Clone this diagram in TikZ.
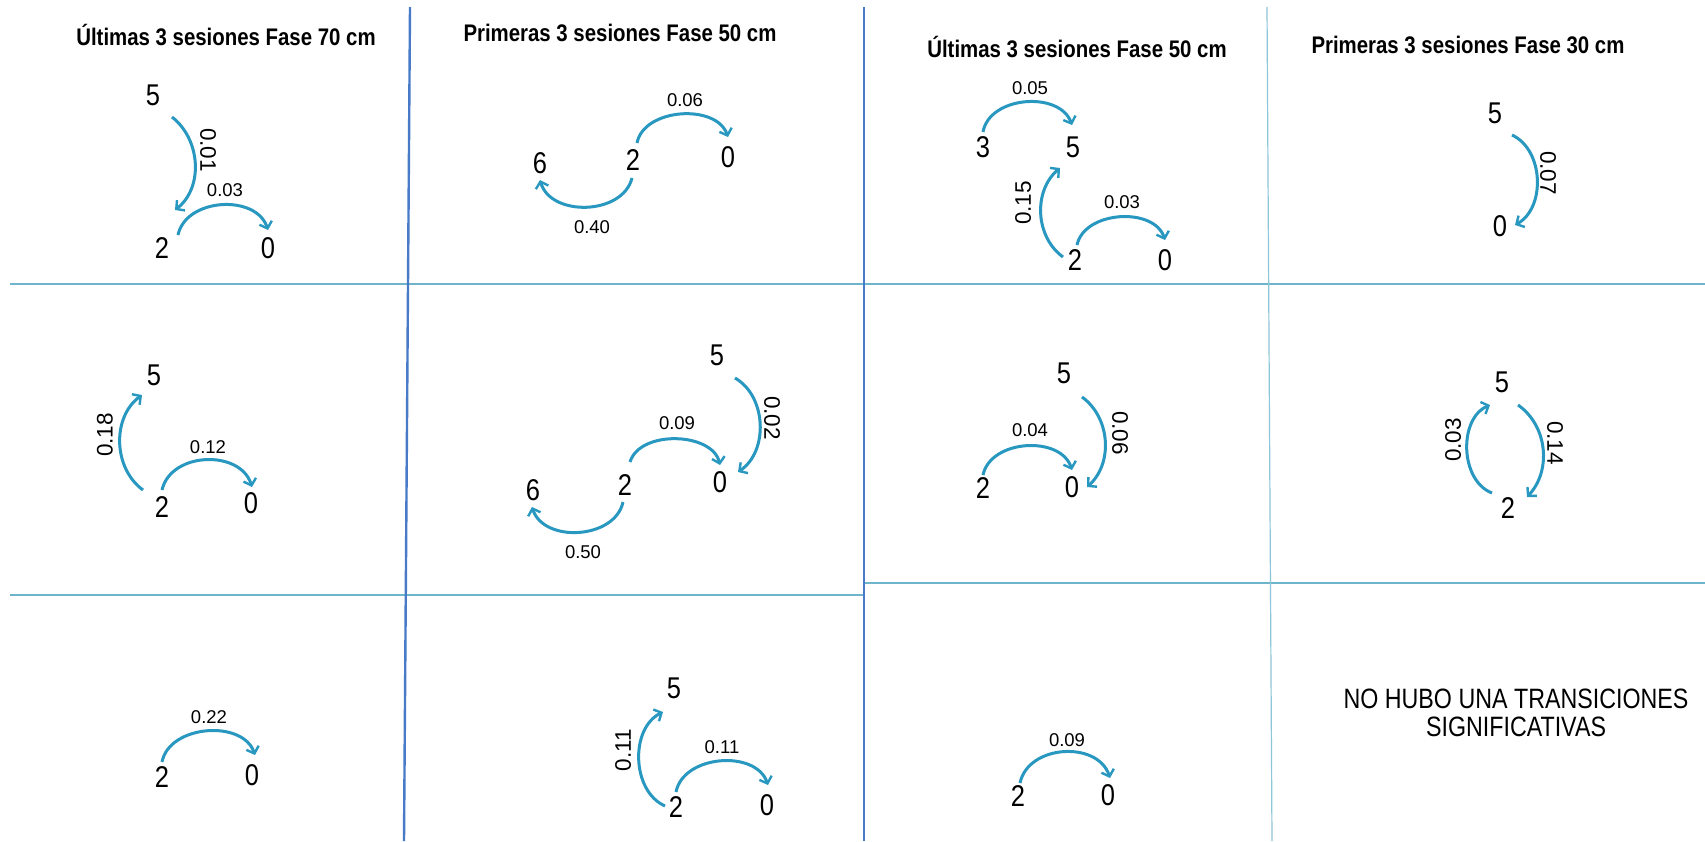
\documentclass[tikz,border=0pt]{standalone}
\usepackage{fontspec}
\setmainfont{Liberation Sans}
\newfontfamily\narrowsans[FakeStretch=0.85]{Liberation Sans}
\newfontfamily\condensed[FakeStretch=0.83]{Liberation Sans}
\usetikzlibrary{arrows.meta,calc}
\definecolor{arcblue}{RGB}{40,152,192}
\definecolor{gridteal}{RGB}{110,180,202}
\definecolor{gridblue}{RGB}{72,122,200}
\definecolor{gridlight}{RGB}{140,198,216}
\begin{document}
\begin{tikzpicture}[x=1pt,y=1pt,
  num/.style={inner sep=0pt, font=\fontsize{30}{32}\narrowsans},
  lbl/.style={inner sep=0pt, font=\fontsize{18.5}{20}\selectfont},
  rlbl/.style={inner sep=0pt, font=\fontsize{22.5}{24}\selectfont},
  ttl/.style={inner sep=0pt, font=\fontsize{24}{26}\narrowsans\bfseries},
  note/.style={inner sep=0pt, align=center, font=\fontsize{28}{30}\condensed},
  trans/.style={draw=arcblue, line width=3pt,
    -{Straight Barb[length=6pt,width=13pt,line width=2.4pt]}},
  hline/.style={draw=gridteal, line width=2pt},
  vline/.style={draw=gridblue, line width=2.4pt},
  vthin/.style={draw=gridlight, line width=1.2pt}]
\useasboundingbox[fill=white] (0,0) rectangle (1705,-841);

% grid
\draw[hline] (10,-284) -- (1705,-284);
\draw[hline] (10,-595) -- (864,-595);
\draw[hline] (864,-583) -- (1705,-583);
\draw[vline] (410,-7) -- (404,-841);
\draw[vline] (864,-7) -- (864,-841);
\draw[vthin] (1267,-7) -- (1272,-841);

% titles
\node[ttl] (tA) at (226,-35) {Últimas 3 sesiones Fase 70 cm};
\node[ttl] (tB) at (620,-33) {Primeras 3 sesiones Fase 50 cm};
\node[ttl] (tC) at (1077,-47) {Últimas 3 sesiones Fase 50 cm};
\node[ttl] (tD) at (1468,-45) {Primeras 3 sesiones Fase 30 cm};

% ---- panel A
\node[num] (A5) at (153,-95) {5};
\node[num] (A2) at (162,-248) {2};
\node[num] (A0) at (268,-248) {0};
\draw[trans] ($(A5)+(19,-22)$) to[out=-38,in=38] ($(A2)+(13,38)$);
\draw[trans] ($(A2)+(16,13)$) to[out=78,in=108,looseness=1.08] ($(A0)+(0,18)$);
\node[rlbl,rotate=-90] (lA1) at (208,-150) {0.01};
\node[lbl] (lA2) at (225,-190) {0.03};

% ---- panel B
\node[num] (B6) at (540,-163) {6};
\node[num] (B2) at (633,-160) {2};
\node[num] (B0) at (728,-157) {0};
\draw[trans] ($(B2)+(-1,-18)$) to[out=256,in=-74,looseness=1.07] ($(B6)+(0,-17)$);
\draw[trans] ($(B2)+(4,17)$) to[out=79,in=109] ($(B0)+(0,20)$);
\node[lbl] (lB1) at (592,-227) {0.40};
\node[lbl] (lB2) at (685,-100) {0.06};

% ---- panel C
\node[num] (C3) at (983,-147) {3};
\node[num] (C5) at (1073,-147) {5};
\node[num] (C2) at (1075,-260) {2};
\node[num] (C0) at (1165,-260) {0};
\draw[trans] ($(C3)+(0,15)$) to[out=80,in=110,looseness=1.05] ($(C5)+(-1,22)$);
\draw[trans] ($(C2)+(-12,3)$) to[out=144,in=-140] ($(C5)+(-13,-21)$);
\draw[trans] ($(C2)+(2,15)$) to[out=78,in=108,looseness=1.02] ($(C0)+(0,20)$);
\node[lbl] (lC1) at (1030,-88) {0.05};
\node[rlbl,rotate=90] (lC2) at (1023,-203) {0.15};
\node[lbl] (lC3) at (1122,-202) {0.03};

% ---- panel D
\node[num] (D5) at (1495,-113) {5};
\node[num] (D0) at (1500,-226) {0};
\draw[trans] ($(D5)+(17,-22)$) to[out=-25,in=29] ($(D0)+(15,1)$);
\node[rlbl,rotate=-90] (lD1) at (1548,-173) {0.07};

% ---- panel E
\node[num] (E5) at (154,-375) {5};
\node[num] (E2) at (162,-507) {2};
\node[num] (E0) at (251,-503) {0};
\draw[trans] ($(E2)+(-19,17)$) to[out=144,in=-144] ($(E5)+(-12,-20)$);
\draw[trans] ($(E2)+(0,17)$) to[out=77,in=107,looseness=1.12] ($(E0)+(1,16)$);
\node[rlbl,rotate=90] (lE1) at (105,-435) {0.18};
\node[lbl] (lE2) at (208,-447) {0.12};

% ---- panel F
\node[num] (F5) at (717,-355) {5};
\node[num] (F6) at (533,-490) {6};
\node[num] (F2) at (625,-485) {2};
\node[num] (F0) at (720,-482) {0};
\draw[trans] ($(F5)+(18,-23)$) to[out=-30,in=34] ($(F0)+(18,10)$);
\draw[trans] ($(F2)+(5,23)$) to[out=73,in=103,looseness=0.96] ($(F0)+(0,17)$);
\draw[trans] ($(F2)+(-2,-17)$) to[out=258,in=-72,looseness=1.07] ($(F6)+(-1,-17)$);
\node[rlbl,rotate=-90] (lF1) at (772,-418) {0.02};
\node[lbl] (lF2) at (677,-423) {0.09};
\node[lbl] (lF3) at (583,-552) {0.50};

% ---- panel G
\node[num] (G5) at (1064,-373) {5};
\node[num] (G2) at (983,-488) {2};
\node[num] (G0) at (1072,-487) {0};
\draw[trans] ($(G5)+(18,-24)$) to[out=-36,in=42] ($(G0)+(15,0)$);
\draw[trans] ($(G2)+(0,13)$) to[out=78,in=108,looseness=1.05] ($(G0)+(0,17)$);
\node[rlbl,rotate=-90] (lG1) at (1120,-433) {0.06};
\node[lbl] (lG2) at (1030,-430) {0.04};

% ---- panel H
\node[num] (H5) at (1502,-382) {5};
\node[num] (H2) at (1508,-508) {2};
\draw[trans] ($(H5)+(16,-23)$) to[out=-35,in=47] ($(H2)+(19,11)$);
\draw[trans] ($(H2)+(-16,15)$) to[out=159,in=-157] ($(H5)+(-12,-23)$);
\node[rlbl,rotate=-90] (lH1) at (1555,-443) {0.14};
\node[rlbl,rotate=90] (lH2) at (1453,-440) {0.03};

% ---- panel I
\node[num] (I2) at (162,-777) {2};
\node[num] (I0) at (252,-775) {0};
\draw[trans] ($(I2)+(0,15)$) to[out=79,in=109,looseness=1.04] ($(I0)+(3,20)$);
\node[lbl] (lI1) at (209,-717) {0.22};

% ---- panel J
\node[num] (J5) at (674,-688) {5};
\node[num] (J2) at (676,-807) {2};
\node[num] (J0) at (767,-805) {0};
\draw[trans] ($(J2)+(-11,1)$) to[out=156,in=-154] ($(J5)+(-11,-24)$);
\draw[trans] ($(J2)+(0,15)$) to[out=79,in=109,looseness=1.05] ($(J0)+(1,20)$);
\node[rlbl,rotate=90] (lJ1) at (623,-750) {0.11};
\node[lbl] (lJ2) at (722,-747) {0.11};

% ---- panel K
\node[num] (K2) at (1018,-796) {2};
\node[num] (K0) at (1108,-795) {0};
\draw[trans] ($(K2)+(2,13)$) to[out=78,in=108,looseness=1.12] ($(K0)+(2,17)$);
\node[lbl] (lK1) at (1067,-740) {0.09};

% ---- panel L
\node[note] (L1) at (1516,-713) {NO HUBO UNA TRANSICIONES\\[-2pt]SIGNIFICATIVAS};
\end{tikzpicture}
\end{document}
